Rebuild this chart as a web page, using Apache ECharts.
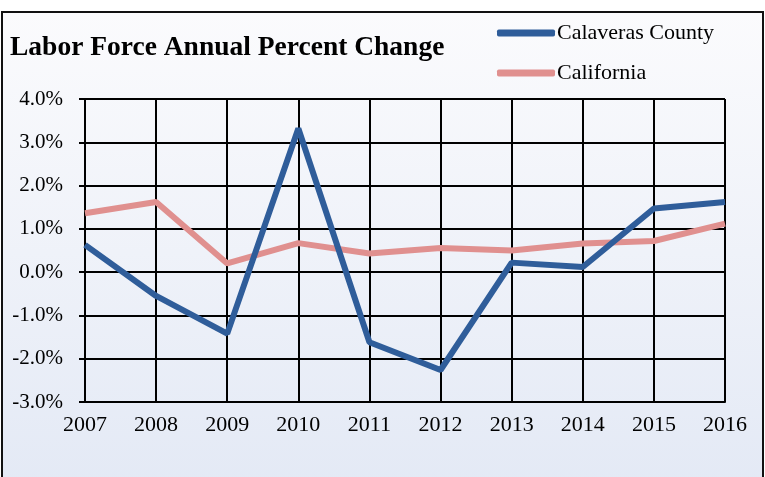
<!DOCTYPE html>
<html>
<head>
<meta charset="utf-8">
<script src="https://cdn.jsdelivr.net/npm/echarts@6/dist/echarts.min.js"></script>
<style>
html,body{margin:0;padding:0;background:#fff;}
#c{width:765px;height:477px;}
</style>
</head>
<body>
<div id="c"></div>
<script>
const years = ['2007','2008','2009','2010','2011','2012','2013','2014','2015','2016'];
const calaveras = [0.63, -0.55, -1.42, 3.32, -1.62, -2.26, 0.22, 0.12, 1.47, 1.62];
const california = [1.36, 1.62, 0.2, 0.67, 0.43, 0.56, 0.5, 0.66, 0.72, 1.12];
const seriesNames = ['Calaveras County', 'California'];
const titleText = 'Labor Force Annual Percent Change';

const serif = '"Liberation Serif", "Times New Roman", serif';
const chart = echarts.init(document.getElementById('c'));
chart.setOption({
  animation: false,
  textStyle: { fontFamily: serif },
  graphic: [{
    type: 'rect', z: -10, silent: true,
    shape: { x: 2, y: 12, width: 761, height: 480 },
    style: {
      fill: new echarts.graphic.LinearGradient(0, 0, 0, 1, [
        { offset: 0, color: '#fbfbfd' },
        { offset: 1, color: '#e3e9f5' }
      ]),
      stroke: '#111', lineWidth: 2
    }
  }],
  title: {
    text: titleText, left: 10, top: 34, padding: 0,
    textStyle: { fontFamily: serif, fontWeight: 'bold', fontSize: 27.5, color: '#000' }
  },
  legend: {
    orient: 'vertical', left: 497, top: 22, padding: 0,
    itemWidth: 58, itemHeight: 7, itemGap: 18, icon: 'roundRect',
    textStyle: { fontFamily: serif, fontSize: 22, color: '#000', padding: [0, 0, 0, -3] },
    data: seriesNames
  },
  grid: { left: 85, right: 40, top: 99, bottom: 75, containLabel: false },
  xAxis: {
    type: 'category', data: years, boundaryGap: false,
    axisLine: { onZero: false, lineStyle: { color: '#000', width: 2 } },
    axisTick: { show: false },
    axisLabel: { color: '#000', fontSize: 22, margin: 12, fontFamily: serif },
    splitLine: { show: true, lineStyle: { color: '#000', width: 2 } }
  },
  yAxis: {
    type: 'value', min: -3, max: 4, interval: 1,
    axisLine: { show: true, lineStyle: { color: '#000', width: 2 } },
    axisTick: { show: true, length: 6, lineStyle: { color: '#000', width: 2 } },
    axisLabel: { color: '#000', fontSize: 21, margin: 22, fontFamily: serif,
      formatter: v => v.toFixed(1) + '%' },
    splitLine: { show: true, lineStyle: { color: '#000', width: 2 } }
  },
  series: [
    { name: seriesNames[0], type: 'line', data: calaveras, symbol: 'none',
      lineStyle: { color: '#2f5d9a', width: 6 }, itemStyle: { color: '#2f5d9a' }, z: 3 },
    { name: seriesNames[1], type: 'line', data: california, symbol: 'none',
      lineStyle: { color: '#e0908f', width: 6 }, itemStyle: { color: '#e0908f' }, z: 2 }
  ]
});
</script>
</body>
</html>
